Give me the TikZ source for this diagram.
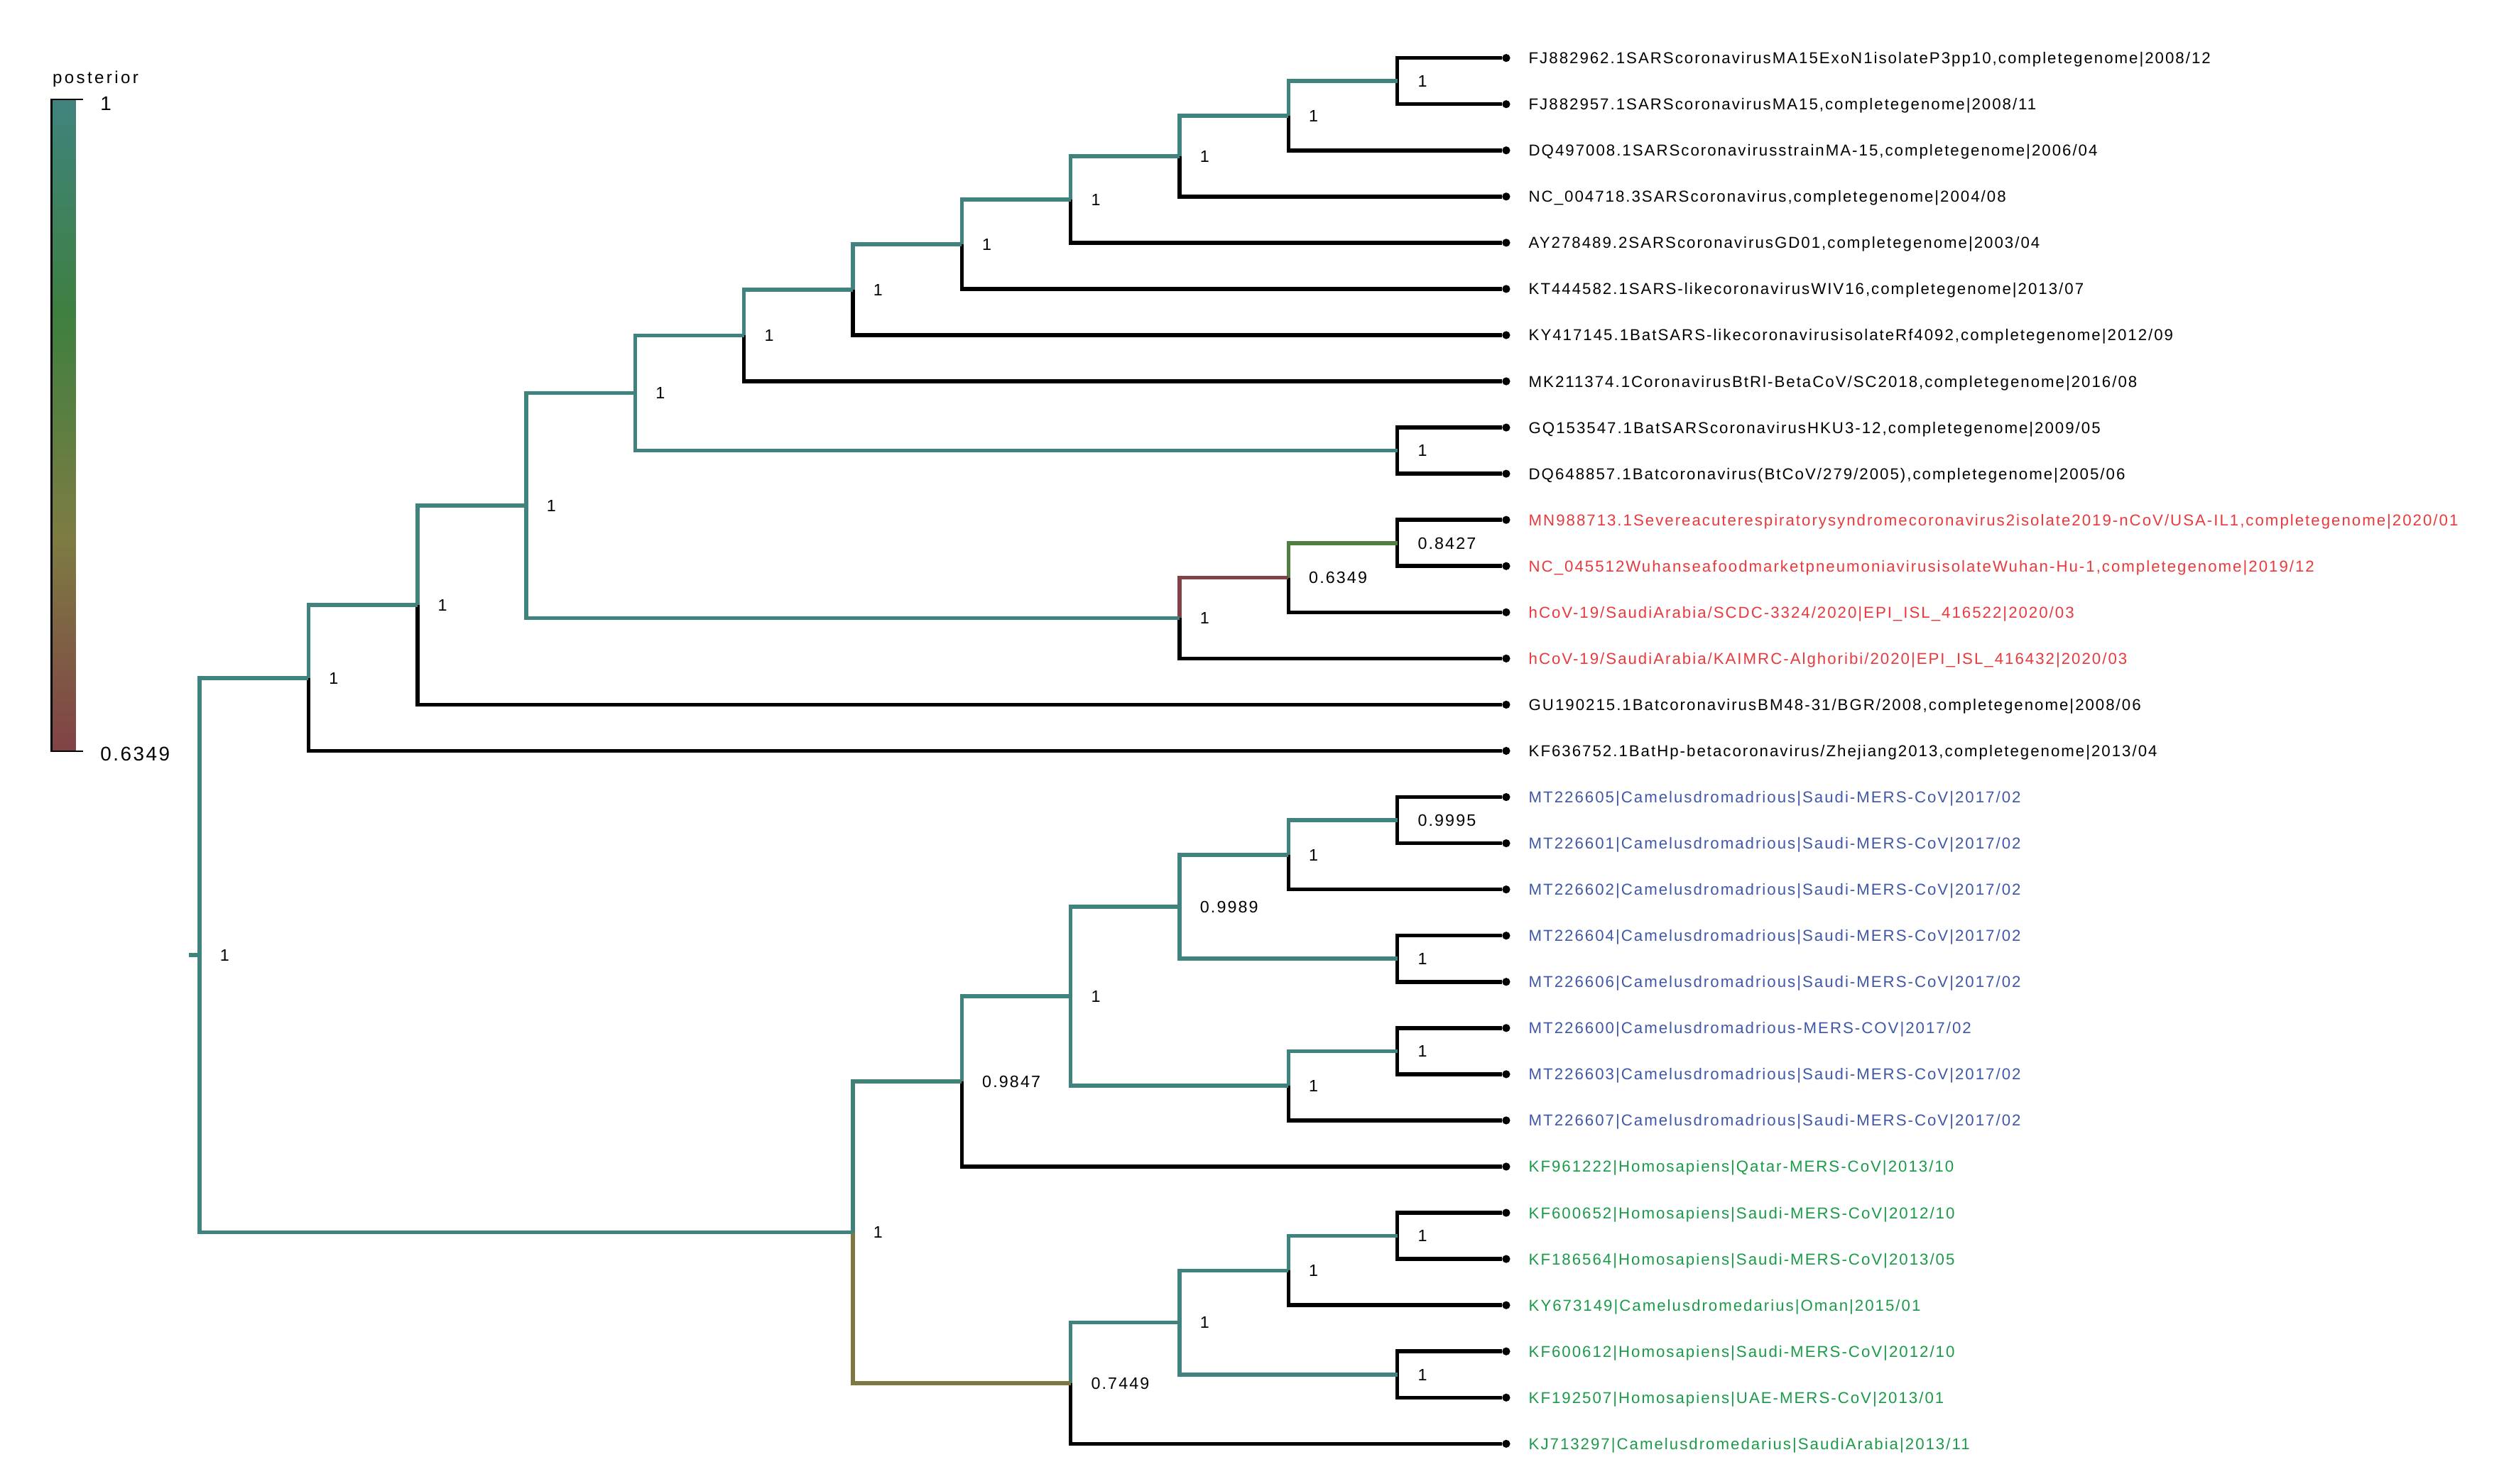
\documentclass[tikz,border=0pt]{standalone}
\usepackage{fontspec}
\setmainfont{Liberation Sans}
\newfontfamily\leaffont{Liberation Sans}[LetterSpace=9]
\newfontfamily\keyfont{Liberation Sans}[LetterSpace=14]
\usetikzlibrary{positioning}

\definecolor{post1}{RGB}{64,131,126}
\definecolor{postgreen}{RGB}{62,128,64}
\definecolor{postolive}{RGB}{125,124,66}
\definecolor{post6349}{RGB}{128,66,70}
\colorlet{post9995}{post1}
\colorlet{post9989}{postgreen!1!post1}
\colorlet{post9847}{postgreen!13!post1}
\colorlet{post8427}{postolive!29!postgreen}
\colorlet{post7449}{post6349!9!postolive}
\definecolor{sarsred}{RGB}{232,57,60}
\definecolor{camelblue}{RGB}{63,87,166}
\definecolor{mersgreen}{RGB}{26,154,72}

\pgfdeclareverticalshading{posteriorbar}{100bp}{color(0bp)=(post6349); color(25bp)=(post6349); color(41.5bp)=(postolive); color(58.5bp)=(postgreen); color(75bp)=(post1); color(100bp)=(post1)}

\newcommand{\leaf}[4]{
	\node [leafdot] (#1) at (12,#2) {};
	\node [leaflab,text=#3,right=0.218cm of #1] (#1lab) {#4};
}
\newcommand{\clade}[4]{
	\coordinate (#1) at (#2,#3);
	\node [pplab,right=0.25cm of #1] (#1lab) {#4};
}

\begin{document}
\begin{tikzpicture}[
	br/.style={line width=1.4pt},
	leafdot/.style={circle,fill=black,inner sep=0pt,minimum size=0.1cm},
	leaflab/.style={inner sep=0pt,anchor=west,text height=4.03pt,text depth=0pt,font=\fontsize{5.63}{6}\leaffont},
	pplab/.style={inner sep=0pt,anchor=west,text height=4.22pt,text depth=0pt,font=\fontsize{5.9}{6}\leaffont},
	keylab/.style={inner sep=0pt,anchor=west,text height=5.05pt,text depth=0pt,font=\fontsize{7.05}{8}\leaffont}]
\useasboundingbox (0,0) rectangle (31.36,-18.58);

% colour key
\node [inner sep=0pt,anchor=base west,font=\fontsize{6.1}{7}\keyfont] (keytitle) at (0.652,-1.044) {posterior};
\shade [shading=posteriorbar] (0.656,-1.246) rectangle (0.948,-9.41);
\draw [line width=0.68pt] (1.038,-1.246) -- (0.646,-1.246) -- (0.646,-9.41) -- (1.038,-9.41);
\node [keylab] (keymax) at (1.25,-1.298) {1};
\node [keylab] (keymin) at (1.25,-9.444) {0.6349};

\begin{scope}[shift={(2.5,-0.726)},x=1.3636cm,y=-0.5786cm]
% tips
\leaf{t0}{0}{black}{FJ882962.1SARScoronavirusMA15ExoN1isolateP3pp10,completegenome|2008/12}
\leaf{t1}{1}{black}{FJ882957.1SARScoronavirusMA15,completegenome|2008/11}
\leaf{t2}{2}{black}{DQ497008.1SARScoronavirusstrainMA-15,completegenome|2006/04}
\leaf{t3}{3}{black}{NC\_004718.3SARScoronavirus,completegenome|2004/08}
\leaf{t4}{4}{black}{AY278489.2SARScoronavirusGD01,completegenome|2003/04}
\leaf{t5}{5}{black}{KT444582.1SARS-likecoronavirusWIV16,completegenome|2013/07}
\leaf{t6}{6}{black}{KY417145.1BatSARS-likecoronavirusisolateRf4092,completegenome|2012/09}
\leaf{t7}{7}{black}{MK211374.1CoronavirusBtRl-BetaCoV/SC2018,completegenome|2016/08}
\leaf{t8}{8}{black}{GQ153547.1BatSARScoronavirusHKU3-12,completegenome|2009/05}
\leaf{t9}{9}{black}{DQ648857.1Batcoronavirus(BtCoV/279/2005),completegenome|2005/06}
\leaf{t10}{10}{sarsred}{MN988713.1Severeacuterespiratorysyndromecoronavirus2isolate2019-nCoV/USA-IL1,completegenome|2020/01}
\leaf{t11}{11}{sarsred}{NC\_045512WuhanseafoodmarketpneumoniavirusisolateWuhan-Hu-1,completegenome|2019/12}
\leaf{t12}{12}{sarsred}{hCoV-19/SaudiArabia/SCDC-3324/2020|EPI\_ISL\_416522|2020/03}
\leaf{t13}{13}{sarsred}{hCoV-19/SaudiArabia/KAIMRC-Alghoribi/2020|EPI\_ISL\_416432|2020/03}
\leaf{t14}{14}{black}{GU190215.1BatcoronavirusBM48-31/BGR/2008,completegenome|2008/06}
\leaf{t15}{15}{black}{KF636752.1BatHp-betacoronavirus/Zhejiang2013,completegenome|2013/04}
\leaf{t16}{16}{camelblue}{MT226605|Camelusdromadrious|Saudi-MERS-CoV|2017/02}
\leaf{t17}{17}{camelblue}{MT226601|Camelusdromadrious|Saudi-MERS-CoV|2017/02}
\leaf{t18}{18}{camelblue}{MT226602|Camelusdromadrious|Saudi-MERS-CoV|2017/02}
\leaf{t19}{19}{camelblue}{MT226604|Camelusdromadrious|Saudi-MERS-CoV|2017/02}
\leaf{t20}{20}{camelblue}{MT226606|Camelusdromadrious|Saudi-MERS-CoV|2017/02}
\leaf{t21}{21}{camelblue}{MT226600|Camelusdromadrious-MERS-COV|2017/02}
\leaf{t22}{22}{camelblue}{MT226603|Camelusdromadrious|Saudi-MERS-CoV|2017/02}
\leaf{t23}{23}{camelblue}{MT226607|Camelusdromadrious|Saudi-MERS-CoV|2017/02}
\leaf{t24}{24}{mersgreen}{KF961222|Homosapiens|Qatar-MERS-CoV|2013/10}
\leaf{t25}{25}{mersgreen}{KF600652|Homosapiens|Saudi-MERS-CoV|2012/10}
\leaf{t26}{26}{mersgreen}{KF186564|Homosapiens|Saudi-MERS-CoV|2013/05}
\leaf{t27}{27}{mersgreen}{KY673149|Camelusdromedarius|Oman|2015/01}
\leaf{t28}{28}{mersgreen}{KF600612|Homosapiens|Saudi-MERS-CoV|2012/10}
\leaf{t29}{29}{mersgreen}{KF192507|Homosapiens|UAE-MERS-CoV|2013/01}
\leaf{t30}{30}{mersgreen}{KJ713297|Camelusdromedarius|SaudiArabia|2013/11}

% inner nodes, posterior next to each
\clade{ck}{11}{0.5}{1}
\clade{cj}{10}{1.25}{1}
\clade{ci}{9}{2.125}{1}
\clade{ch}{8}{3.0625}{1}
\clade{cg}{7}{4.0313}{1}
\clade{cf}{6}{5.0156}{1}
\clade{ce}{5}{6.0078}{1}
\clade{cl}{11}{8.5}{1}
\clade{cd}{4}{7.2539}{1}
\clade{co}{11}{10.5}{0.8427}
\clade{cn}{10}{11.25}{0.6349}
\clade{cm}{9}{12.125}{1}
\clade{cc}{3}{9.6895}{1}
\clade{cb}{2}{11.8447}{1}
\clade{ca}{1}{13.4224}{1}
\clade{ct}{11}{16.5}{0.9995}
\clade{cs}{10}{17.25}{1}
\clade{cu}{11}{19.5}{1}
\clade{cr}{9}{18.375}{0.9989}
\clade{cw}{11}{21.5}{1}
\clade{cv}{10}{22.25}{1}
\clade{cq}{8}{20.3125}{1}
\clade{cp}{7}{22.1563}{0.9847}
\clade{cza}{11}{25.5}{1}
\clade{cz}{10}{26.25}{1}
\clade{czb}{11}{28.5}{1}
\clade{cy}{9}{27.375}{1}
\clade{cx}{8}{28.6875}{0.7449}
\clade{cmers}{6}{25.4219}{1}
\clade{root}{0}{19.4221}{1}
\coordinate (stem) at (-0.1,19.4221);

% tip branches
\draw [br] (ck) |- (t0);
\draw [br] (ck) |- (t1);
\draw [br] (cj) |- (t2);
\draw [br] (ci) |- (t3);
\draw [br] (ch) |- (t4);
\draw [br] (cg) |- (t5);
\draw [br] (cf) |- (t6);
\draw [br] (ce) |- (t7);
\draw [br] (cl) |- (t8);
\draw [br] (cl) |- (t9);
\draw [br] (co) |- (t10);
\draw [br] (co) |- (t11);
\draw [br] (cn) |- (t12);
\draw [br] (cm) |- (t13);
\draw [br] (cb) |- (t14);
\draw [br] (ca) |- (t15);
\draw [br] (ct) |- (t16);
\draw [br] (ct) |- (t17);
\draw [br] (cs) |- (t18);
\draw [br] (cu) |- (t19);
\draw [br] (cu) |- (t20);
\draw [br] (cw) |- (t21);
\draw [br] (cw) |- (t22);
\draw [br] (cv) |- (t23);
\draw [br] (cp) |- (t24);
\draw [br] (cza) |- (t25);
\draw [br] (cza) |- (t26);
\draw [br] (cz) |- (t27);
\draw [br] (czb) |- (t28);
\draw [br] (czb) |- (t29);
\draw [br] (cx) |- (t30);

% inner branches, coloured by posterior
\draw [br,post1] (cj) |- (ck);
\draw [br,post1] (ci) |- (cj);
\draw [br,post1] (ch) |- (ci);
\draw [br,post1] (cg) |- (ch);
\draw [br,post1] (cf) |- (cg);
\draw [br,post1] (ce) |- (cf);
\draw [br,post1] (cd) |- (ce);
\draw [br,post1] (cd) |- (cl);
\draw [br,post1] (cc) |- (cd);
\draw [br,post8427] (cn) |- (co);
\draw [br,post6349] (cm) |- (cn);
\draw [br,post1] (cc) |- (cm);
\draw [br,post1] (cb) |- (cc);
\draw [br,post1] (ca) |- (cb);
\draw [br,post1] (root) |- (ca);
\draw [br,post9995] (cs) |- (ct);
\draw [br,post1] (cr) |- (cs);
\draw [br,post1] (cr) |- (cu);
\draw [br,post9989] (cq) |- (cr);
\draw [br,post1] (cv) |- (cw);
\draw [br,post1] (cq) |- (cv);
\draw [br,post1] (cp) |- (cq);
\draw [br,post1] (cz) |- (cza);
\draw [br,post1] (cy) |- (cz);
\draw [br,post1] (cy) |- (czb);
\draw [br,post1] (cx) |- (cy);
\draw [br,post9847] (cmers) |- (cp);
\draw [br,post7449] (cmers) |- (cx);
\draw [br,post1] (root) |- (cmers);
\draw [br,post1] (stem) -- (root);
\end{scope}
\end{tikzpicture}
\end{document}
